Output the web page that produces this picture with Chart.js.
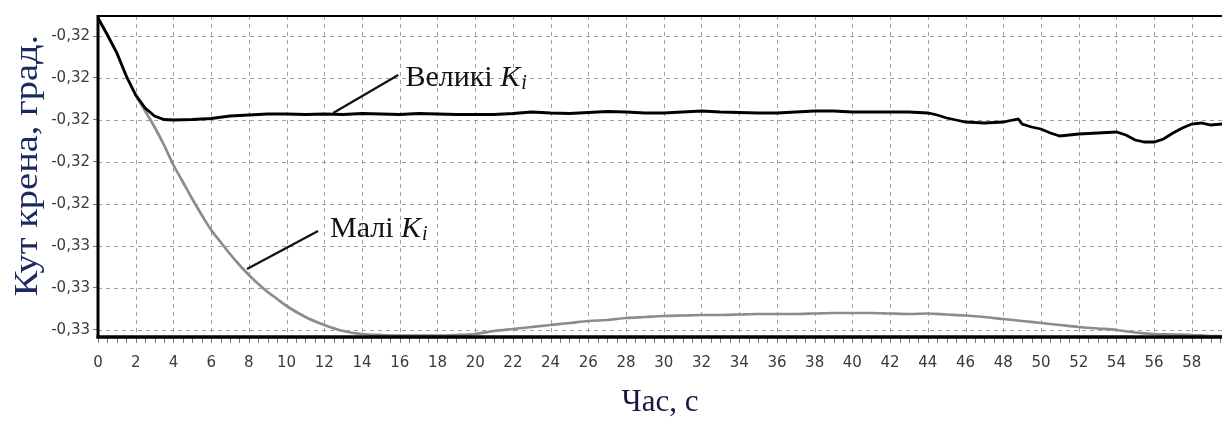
<!DOCTYPE html>
<html><head><meta charset="utf-8">
<script src="https://cdn.jsdelivr.net/npm/chart.js@4.4.1/dist/chart.umd.min.js"></script>
<style>html,body{margin:0;padding:0;background:#fff;overflow:hidden}#wrap{width:1222px;height:421px;position:relative}</style>
</head><body><div id="wrap"><canvas id="c" width="1222" height="421"></canvas></div>
<script>
// ---- data ----
const seriesNames = ['Великі Ki', 'Малі Ki'];
const timeBig = [0,0.5,1,1.5,2,2.5,3,3.5,4,5,6,7,8,9,10,11,12,13,14,15,16,17,18,19,20,21,22,23,24,25,26,27,28,29,30,31,32,33,34,35,36,37,38,39,40,41,42,43,44,44.5,45,45.5,46,47,48,48.5,48.8,49,49.5,50,50.5,51,51.5,52,53,54,54.5,55,55.5,56,56.5,57,57.5,58,58.5,59,59.6];
const valBig = [-0.3156,-0.31645,-0.31735,-0.3185,-0.31945,-0.3201,-0.3205,-0.320675,-0.3207,-0.320675,-0.320625,-0.3205,-0.32045,-0.3204,-0.3204,-0.320425,-0.3204,-0.320425,-0.320375,-0.3204,-0.320425,-0.320375,-0.3204,-0.320425,-0.320425,-0.320425,-0.320375,-0.3203,-0.32035,-0.320375,-0.320325,-0.320275,-0.3203,-0.32035,-0.32035,-0.3203,-0.32025,-0.3203,-0.320325,-0.32035,-0.32035,-0.3203,-0.32025,-0.32025,-0.3203,-0.3203,-0.3203,-0.3203,-0.32035,-0.32045,-0.3206,-0.3207,-0.3208,-0.32085,-0.3208,-0.3207,-0.32065,-0.3209,-0.32105,-0.32115,-0.32135,-0.3215,-0.32145,-0.3214,-0.32135,-0.3213,-0.32145,-0.3217,-0.3218,-0.3218,-0.32165,-0.32135,-0.3211,-0.3209,-0.32085,-0.32095,-0.3209];
const timeSmall = [0,0.5,1,1.5,2,2.5,3,3.5,4,4.5,5,5.5,6,6.5,7,7.5,8,8.5,9,9.5,10,11,12,13,14,15,16,17,18,19,20,21,22,23,24,25,26,27,28,29,30,31,32,33,34,35,36,37,38,39,40,41,42,43,44,45,46,47,48,49,50,51,52,53,54,55,56,57,58,59,59.6];
const valSmall = [-0.3156,-0.31645,-0.31735,-0.3185,-0.31945,-0.32025,-0.32105,-0.32195,-0.32295,-0.3238,-0.32465,-0.32545,-0.3262,-0.3268,-0.3274,-0.32795,-0.32845,-0.3289,-0.3293,-0.32965,-0.33,-0.33055,-0.33095,-0.33125,-0.3314,-0.33145,-0.331475,-0.331475,-0.331475,-0.33145,-0.3314,-0.33125,-0.33115,-0.33105,-0.33095,-0.33085,-0.33075,-0.3307,-0.3306,-0.33055,-0.3305,-0.330475,-0.33045,-0.33045,-0.330425,-0.3304,-0.3304,-0.3304,-0.330375,-0.33035,-0.33035,-0.33035,-0.330375,-0.3304,-0.330375,-0.330425,-0.330475,-0.33055,-0.33065,-0.33075,-0.33085,-0.33095,-0.33105,-0.331125,-0.3312,-0.331325,-0.3314,-0.331425,-0.33145,-0.3315,-0.3315];
const xTickValues = [0,2,4,6,8,10,12,14,16,18,20,22,24,26,28,30,32,34,36,38,40,42,44,46,48,50,52,54,56,58];
const xTickLabels = ['0','2','4','6','8','10','12','14','16','18','20','22','24','26','28','30','32','34','36','38','40','42','44','46','48','50','52','54','56','58'];
const yTickValues = [-0.3165,-0.3186,-0.3207,-0.3228,-0.3249,-0.3270,-0.3291,-0.3312];
const yTickLabels = ['-0,32','-0,32','-0,32','-0,32','-0,32','-0,33','-0,33','-0,33'];
const xRange = [0, 59.6];
const yRange = [-0.33155, -0.3155];
const xTitle = 'Час, с';
const yTitle = 'Кут крена, град.';

// annotation placement (data coordinates)
const notes = [
  {text: 'Великі ', from: [12.47, -0.32035], to: [15.92, -0.31845], at: [16.3, -0.31900]},
  {text: 'Малі ', from: [7.9, -0.32815], to: [11.67, -0.32625], at: [12.3, -0.32655]}
];

const framePlugin = {
  id: 'frame',
  beforeDatasetsDraw(chart) {
    const {ctx, chartArea: a, scales: {x, y}} = chart;
    ctx.save();
    ctx.strokeStyle = '#a0a0a0';
    ctx.lineWidth = 1;
    ctx.setLineDash([4, 4]);
    xTickValues.forEach(v => {
      if (v === xRange[0]) return;
      const px = Math.round(x.getPixelForValue(v)) + 0.5;
      ctx.beginPath(); ctx.moveTo(px, a.top); ctx.lineTo(px, a.bottom); ctx.stroke();
    });
    yTickValues.forEach(v => {
      const py = Math.round(y.getPixelForValue(v)) + 0.5;
      ctx.beginPath(); ctx.moveTo(a.left, py); ctx.lineTo(a.right, py); ctx.stroke();
    });
    ctx.restore();
  },
  afterDatasetsDraw(chart) {
    const {ctx, chartArea: a, scales: {x, y}} = chart;
    ctx.save();
    // minor ticks under the x axis
    ctx.strokeStyle = '#777';
    ctx.lineWidth = 1;
    for (let v = xRange[0]; v <= xRange[1]; v += 0.5) {
      const px = Math.round(x.getPixelForValue(v)) + 0.5;
      ctx.beginPath(); ctx.moveTo(px, a.bottom + 1); ctx.lineTo(px, a.bottom + 6); ctx.stroke();
    }
    // frame
    ctx.strokeStyle = '#000';
    ctx.lineWidth = 2;
    ctx.beginPath(); ctx.moveTo(a.left, a.top); ctx.lineTo(a.right, a.top); ctx.stroke();
    ctx.lineWidth = 3;
    ctx.beginPath(); ctx.moveTo(a.left, a.top - 1); ctx.lineTo(a.left, a.bottom + 1); ctx.stroke();
    ctx.lineWidth = 3.5;
    ctx.beginPath(); ctx.moveTo(a.left - 1.5, a.bottom); ctx.lineTo(a.right, a.bottom); ctx.stroke();
    // annotations
    notes.forEach(n => {
      ctx.strokeStyle = '#111';
      ctx.lineWidth = 2.2;
      ctx.beginPath();
      ctx.moveTo(x.getPixelForValue(n.from[0]), y.getPixelForValue(n.from[1]));
      ctx.lineTo(x.getPixelForValue(n.to[0]), y.getPixelForValue(n.to[1]));
      ctx.stroke();
      let tx = x.getPixelForValue(n.at[0]);
      const ty = y.getPixelForValue(n.at[1]);
      ctx.fillStyle = '#111';
      ctx.textBaseline = 'alphabetic';
      ctx.textAlign = 'left';
      ctx.font = '30px "Liberation Serif"';
      ctx.fillText(n.text, tx, ty);
      tx += ctx.measureText(n.text).width;
      ctx.font = 'italic 30px "Liberation Serif"';
      ctx.fillText('K', tx, ty);
      tx += ctx.measureText('K').width + 1;
      ctx.font = 'italic 20px "Liberation Serif"';
      ctx.fillText('i', tx, ty + 3);
    });
    ctx.restore();
  },
  afterDraw(chart) {
    // y-axis title, slightly stretched along its length like the original
    const {ctx, chartArea: a} = chart;
    ctx.save();
    ctx.translate(28, (a.top + a.bottom) / 2 - 11);
    ctx.rotate(-Math.PI / 2);
    ctx.scale(1.13, 1);
    ctx.fillStyle = '#1b2a5e';
    ctx.font = '34px "Liberation Serif"';
    ctx.textAlign = 'center';
    ctx.textBaseline = 'middle';
    ctx.fillText(yTitle, 0, 0);
    ctx.restore();
  }
};

new Chart(document.getElementById('c'), {
  type: 'scatter',
  data: {
    datasets: [
      {
        label: seriesNames[1],
        data: timeSmall.map((t, i) => ({x: t, y: valSmall[i]})),
        showLine: true, borderColor: '#8c8c8c', borderWidth: 2.7,
        pointRadius: 0, cubicInterpolationMode: 'monotone', order: 2
      },
      {
        label: seriesNames[0],
        data: timeBig.map((t, i) => ({x: t, y: valBig[i]})),
        showLine: true, borderColor: '#000', borderWidth: 2.8,
        pointRadius: 0, tension: 0, order: 1
      }
    ]
  },
  options: {
    responsive: false, animation: false, devicePixelRatio: 1,
    layout: {padding: {top: 16, left: 0, right: 0, bottom: 0}},
    plugins: {legend: {display: false}, tooltip: {enabled: false}},
    scales: {
      x: {
        type: 'linear', min: xRange[0], max: xRange[1],
        afterBuildTicks: s => { s.ticks = xTickValues.map(v => ({value: v})); },
        afterFit: s => { s.height = 84; },
        grid: {display: true, drawOnChartArea: false, drawTicks: false},
        border: {display: false},
        ticks: {
          autoSkip: false, maxRotation: 0, padding: 17, color: '#3a3a3a',
          font: {family: '"DejaVu Sans"', size: 15},
          callback: (v, i) => xTickLabels[i]
        },
        title: {display: true, text: xTitle, color: '#151a3c', padding: 0, align: 'center',
          font: {family: '"Liberation Serif"', size: 31, lineHeight: 1.2}}
      },
      y: {
        type: 'linear', min: yRange[0], max: yRange[1],
        afterBuildTicks: s => { s.ticks = yTickValues.map(v => ({value: v})); },
        afterFit: s => { s.width = 98; },
        grid: {display: true, drawOnChartArea: false, drawTicks: true, tickLength: 5, tickColor: '#777'},
        border: {display: false},
        ticks: {
          padding: 3, color: '#3a3a3a',
          font: {family: '"DejaVu Sans"', size: 15},
          callback: (v, i) => yTickLabels[i]
        },
        title: {display: false, text: yTitle}
      }
    }
  },
  plugins: [framePlugin]
});
</script>
</body></html>
